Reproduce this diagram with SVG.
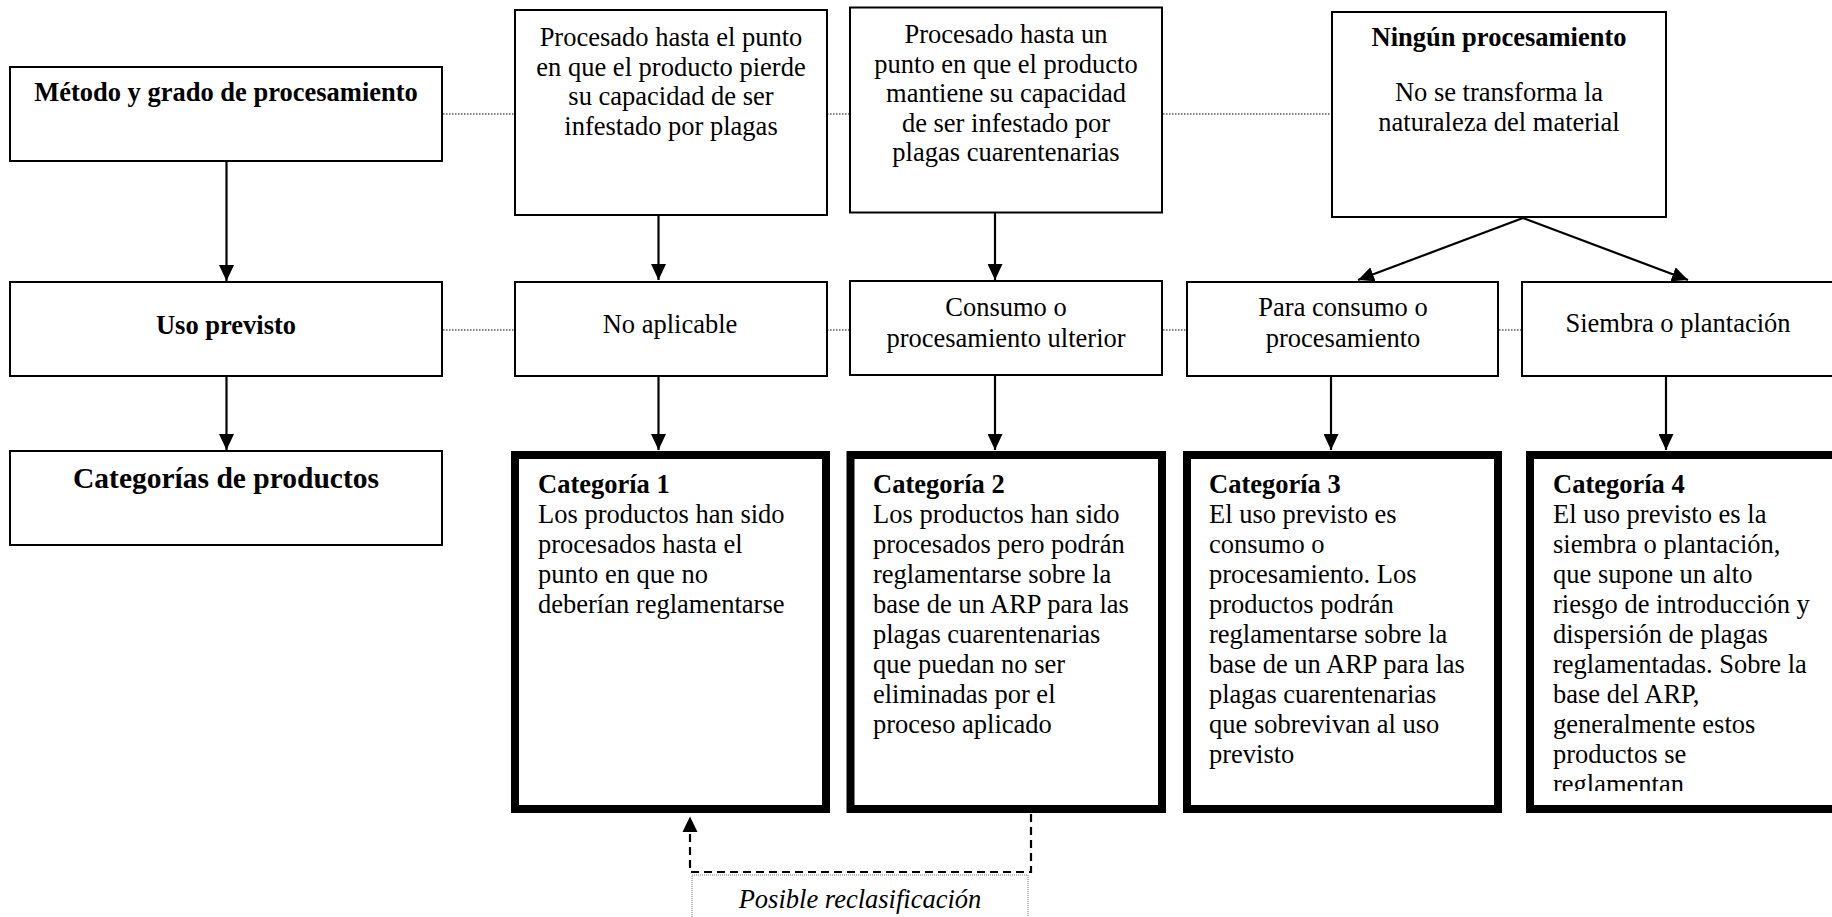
<svg xmlns="http://www.w3.org/2000/svg" width="1832" height="917" viewBox="0 0 1832 917">
<style>
text{font-family:"Liberation Serif","Times New Roman",serif;font-size:26.5px;fill:#000}
.c{text-anchor:middle}
.b{font-weight:bold}
.big{font-size:29.5px}
.it{font-style:italic}
.box{fill:#fff;stroke:#000;stroke-width:2}
.cat{fill:#fff;stroke:#000;stroke-width:8}
.dot{stroke:#555;stroke-width:1.5;stroke-dasharray:1.5 1.5;fill:none}
.arr{stroke:#000;stroke-width:2.2;fill:none;marker-end:url(#ah)}
.dash{stroke:#000;stroke-width:2.2;fill:none;stroke-dasharray:8 5}
.lbl{fill:#fff;stroke:#777;stroke-width:1;stroke-dasharray:1 1}
</style>
<defs>
<marker id="ah" markerUnits="userSpaceOnUse" markerWidth="16" markerHeight="15" refX="16" refY="7.5" orient="auto">
<path d="M0,0 L16,7.5 L0,15 z" fill="#000"/>
</marker>
<clipPath id="c4"><rect x="1534" y="459" width="300" height="332"/></clipPath>
</defs>
<rect width="1832" height="917" fill="#fff"/>

<g id="connectors">
<line class="dot" x1="443" y1="114" x2="514" y2="114"/>
<line class="dot" x1="827" y1="114" x2="850" y2="114"/>
<line class="dot" x1="1163" y1="114" x2="1331" y2="114"/>
<line class="dot" x1="443" y1="330" x2="514" y2="330"/>
<line class="dot" x1="827" y1="330" x2="850" y2="330"/>
<line class="dot" x1="1163" y1="330" x2="1187" y2="330"/>
<line class="dot" x1="1499" y1="330" x2="1522" y2="330"/>
<line class="arr" x1="226.5" y1="161" x2="226.5" y2="281"/>
<line class="arr" x1="226.5" y1="376" x2="226.5" y2="450"/>
<line class="arr" x1="658.5" y1="213" x2="658.5" y2="280"/>
<line class="arr" x1="658.5" y1="376" x2="658.5" y2="450"/>
<line class="arr" x1="995" y1="213" x2="995" y2="280"/>
<line class="arr" x1="995" y1="376" x2="995" y2="450"/>
<line class="arr" x1="1523" y1="218" x2="1358" y2="280"/>
<line class="arr" x1="1523" y1="218" x2="1688" y2="280"/>
<line class="arr" x1="1331" y1="376" x2="1331" y2="450"/>
<line class="arr" x1="1666" y1="376" x2="1666" y2="450"/>
<path class="dash" d="M1031,814 V872 H690 V832"/>
<path d="M682.5,832 L690,816.5 L697.5,832 z" fill="#000"/>
</g>

<g id="n-metodo"><rect class="box" x="10" y="67" width="432" height="94"/><text class="c b" x="226" y="101">Método y grado de procesamiento</text></g>
<g id="n-procA"><rect class="box" x="515" y="10" width="312" height="205"/>
<text class="c" x="671" y="46">Procesado hasta el punto</text>
<text class="c" x="671" y="75.5">en que el producto pierde</text>
<text class="c" x="671" y="105">su capacidad de ser</text>
<text class="c" x="671" y="134.5">infestado por plagas</text></g>
<g id="n-procB"><rect class="box" x="850" y="7.5" width="312" height="205"/>
<text class="c" x="1006" y="43">Procesado hasta un</text>
<text class="c" x="1006" y="72.5">punto en que el producto</text>
<text class="c" x="1006" y="102">mantiene su capacidad</text>
<text class="c" x="1006" y="131.5">de ser infestado por</text>
<text class="c" x="1006" y="161">plagas cuarentenarias</text></g>
<g id="n-ningun"><rect class="box" x="1332" y="12" width="334" height="205"/>
<text class="c b" x="1499" y="46">Ningún procesamiento</text>
<text class="c" x="1499" y="101">No se transforma la</text>
<text class="c" x="1499" y="131">naturaleza del material</text></g>

<g id="n-uso"><rect class="box" x="10" y="282" width="432" height="94"/><text class="c b" x="226" y="334">Uso previsto</text></g>
<g id="n-noaplic"><rect class="box" x="515" y="282" width="312" height="94"/><text class="c" x="670" y="333">No aplicable</text></g>
<g id="n-consumo"><rect class="box" x="850" y="281" width="312" height="94"/>
<text class="c" x="1006" y="316">Consumo o</text>
<text class="c" x="1006" y="347">procesamiento ulterior</text></g>
<g id="n-para"><rect class="box" x="1187" y="282" width="311" height="94"/>
<text class="c" x="1343" y="316">Para consumo o</text>
<text class="c" x="1343" y="347">procesamiento</text></g>
<g id="n-siembra"><rect class="box" x="1522" y="282" width="330" height="94"/><text class="c" x="1678" y="332">Siembra o plantación</text></g>

<g id="n-categorias"><rect class="box" x="10" y="451" width="432" height="94"/><text class="c b big" x="226" y="488">Categorías de productos</text></g>

<g id="n-cat1"><rect class="cat" x="515" y="455" width="311" height="354"/>
<text class="b" x="538" y="492.5">Categoría 1</text>
<text x="538" y="522.5">Los productos han sido</text>
<text x="538" y="552.5">procesados hasta el</text>
<text x="538" y="582.5">punto en que no</text>
<text x="538" y="612.5">deberían reglamentarse</text></g>

<g id="n-cat2"><rect class="cat" x="850.5" y="455" width="311.5" height="354"/>
<text class="b" x="873" y="492.5">Categoría 2</text>
<text x="873" y="522.5">Los productos han sido</text>
<text x="873" y="552.5">procesados pero podrán</text>
<text x="873" y="582.5">reglamentarse sobre la</text>
<text x="873" y="612.5">base de un ARP para las</text>
<text x="873" y="642.5">plagas cuarentenarias</text>
<text x="873" y="672.5">que puedan no ser</text>
<text x="873" y="702.5">eliminadas por el</text>
<text x="873" y="732.5">proceso aplicado</text></g>

<g id="n-cat3"><rect class="cat" x="1187" y="455" width="311" height="354"/>
<text class="b" x="1209" y="492.5">Categoría 3</text>
<text x="1209" y="522.5">El uso previsto es</text>
<text x="1209" y="552.5">consumo o</text>
<text x="1209" y="582.5">procesamiento. Los</text>
<text x="1209" y="612.5">productos podrán</text>
<text x="1209" y="642.5">reglamentarse sobre la</text>
<text x="1209" y="672.5">base de un ARP para las</text>
<text x="1209" y="702.5">plagas cuarentenarias</text>
<text x="1209" y="732.5">que sobrevivan al uso</text>
<text x="1209" y="762.5">previsto</text></g>

<g id="n-cat4"><rect class="cat" x="1530" y="455" width="320" height="354"/>
<g clip-path="url(#c4)">
<text class="b" x="1553" y="492.5">Categoría 4</text>
<text x="1553" y="522.5">El uso previsto es la</text>
<text x="1553" y="552.5">siembra o plantación,</text>
<text x="1553" y="582.5">que supone un alto</text>
<text x="1553" y="612.5">riesgo de introducción y</text>
<text x="1553" y="642.5">dispersión de plagas</text>
<text x="1553" y="672.5">reglamentadas. Sobre la</text>
<text x="1553" y="702.5">base del ARP,</text>
<text x="1553" y="732.5">generalmente estos</text>
<text x="1553" y="762.5">productos se</text>
<text x="1553" y="792.5">reglamentan</text>
</g></g>

<g id="n-reclas"><rect class="lbl" x="692" y="875" width="336" height="60"/>
<text class="c it" x="860" y="908">Posible reclasificación</text></g>
</svg>
